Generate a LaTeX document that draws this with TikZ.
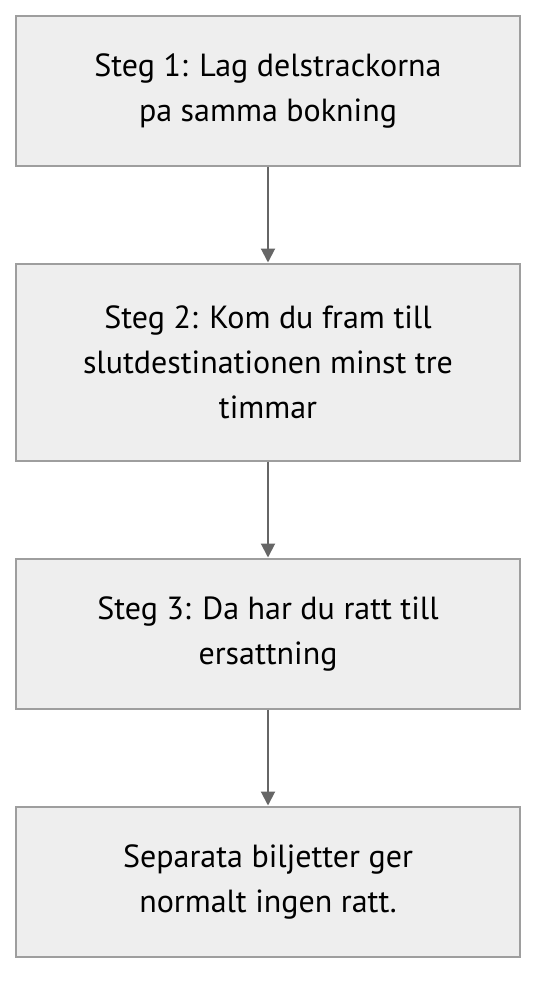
\documentclass[tikz,border=0pt]{standalone}
\usepackage{fontspec}
\setmainfont{PT Sans}
\usetikzlibrary{positioning, arrows.meta}
\definecolor{boxfill}{HTML}{EEEEEE}
\definecolor{boxline}{HTML}{9E9E9E}
\definecolor{flowline}{HTML}{666666}
\begin{document}
\begin{tikzpicture}[
stage/.style={rectangle, draw=boxline, fill=boxfill, line width=2pt, minimum width=504pt, align=center, inner sep=0pt, font=\fontsize{32pt}{45pt}\selectfont},
flow/.style={draw=flowline, line width=2pt, -{Triangle[width=14pt, length=14pt]}},
node distance=96pt,
]
\useasboundingbox (0,0) rectangle (552pt,-1004pt);
\node (S1) [stage, minimum height=150pt] at (268pt,-90.5pt) {Steg 1: Lag delstrackorna\\pa samma bokning};
\node (S2) [stage, minimum height=197pt, below=of S1] {Steg 2: Kom du fram till\\slutdestinationen minst tre\\timmar};
\node (S3) [stage, minimum height=150pt, below=of S2] {Steg 3: Da har du ratt till\\ersattning};
\node (S4) [stage, minimum height=150pt, below=of S3] {Separata biljetter ger\\normalt ingen ratt.};
\draw[flow] (S1) -- (S2);
\draw[flow] (S2) -- (S3);
\draw[flow] (S3) -- (S4);
\end{tikzpicture}
\end{document}
